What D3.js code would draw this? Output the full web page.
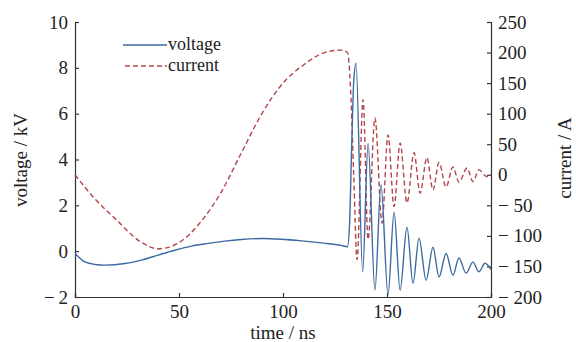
<!DOCTYPE html>
<html lang="en">
<head>
<meta charset="UTF-8">
<title>voltage and current</title>
<script src="https://cdn.jsdelivr.net/npm/d3@7"></script>
<style>
  body { margin: 0; background: #fff; }
  svg text { font-family: "Liberation Serif", "Times New Roman", serif; fill: #222; }
  .axis path, .axis line { stroke: #333; stroke-width: 1.2; }
  .axis text { font-size: 19px; }
</style>
</head>
<body>
<svg id="chart" width="576" height="342"></svg>
<script>
// voltage trace (ns, kV)
const voltTime = [0, 4.8, 9.6, 14.4, 24, 32, 40, 48, 56, 64, 72, 80, 90, 99, 109, 118.6, 128, 131,
  132, 133, 134, 135.1, 138.3, 140.9, 144.2, 147.1, 150.5, 153.4, 156.3, 159.6, 162.5, 165.4,
  168.8, 172.1, 175, 178.4, 181.7, 184.6, 188, 191.3, 194.2, 197.1, 200];
const voltValue = [-0.1, -0.47, -0.58, -0.61, -0.54, -0.39, -0.17, 0.04, 0.22, 0.34, 0.44, 0.51, 0.55, 0.52, 0.45, 0.36, 0.25, 0.19,
  1.2, 4.5, 7.4, 8.2, -0.9, 4.7, -1.7, 2.9, -1.9, 1.7, -1.7, 1.05, -1.4, 0.57,
  -1.27, 0.17, -1.13, -0.1, -1.05, -0.3, -0.96, -0.48, -0.9, -0.53, -0.8];

// current trace (ns, A)
const currTime = [0, 10, 20, 30, 40, 50, 60, 70, 80, 90, 100, 110, 120, 128, 131,
  132.5, 134, 135.6, 138.5, 140.9, 144.2, 147.6, 150.5, 153.4, 156.3, 159.6, 163, 165.9,
  169.2, 172.1, 175, 178.4, 181.7, 184.6, 188.5, 191.3, 194.2, 198, 200];
const currValue = [0, -41, -74, -106, -121, -111, -79, -30, 36, 101, 150, 180, 200, 204, 200,
  140, 0, -139, 123, -106, 93, -79, 65, -52, 52, -46, 36, -30,
  28, -25, 20, -20, 13, -12, 11, -11, 8, -3, 0];

const xTicks = [0, 50, 100, 150, 200];
const voltTicks = [-2, 0, 2, 4, 6, 8, 10];
const currTicks = [-200, -150, -100, -50, 0, 50, 100, 150, 200, 250];

const svg = d3.select("#chart");

const x = d3.scaleLinear().domain([0, 200]).range([75, 491]);
const yV = d3.scaleLinear().domain([-2, 10]).range([297, 22]);
const yA = d3.scaleLinear().domain([-200, 250]).range([297, 22]);

const fmt = (sp) => d => d < 0 ? "\u2212" + sp + Math.abs(d) : String(d);

// axes, ticks pointing inward
svg.append("g").attr("class", "axis")
  .attr("transform", "translate(75,0)")
  .call(d3.axisLeft(yV).tickValues(voltTicks).tickSize(-4).tickPadding(7).tickFormat(fmt("\u2009")));

svg.append("g").attr("class", "axis")
  .attr("transform", "translate(491,0)")
  .call(d3.axisRight(yA).tickValues(currTicks).tickSize(-4).tickPadding(7).tickFormat(fmt(" ")));

svg.append("g").attr("class", "axis")
  .attr("transform", "translate(0,297)")
  .call(d3.axisBottom(x).tickValues(xTicks).tickSize(-4).tickPadding(8));

// lines
const voltData = voltTime.map((t, i) => [t, voltValue[i]]);
const currData = currTime.map((t, i) => [t, currValue[i]]);

svg.append("path")
  .datum(currData)
  .attr("fill", "none")
  .attr("stroke", "#b3474a")
  .attr("stroke-width", 1.4)
  .attr("stroke-dasharray", "5,3")
  .attr("d", d3.line().x(d => x(d[0])).y(d => yA(d[1])).curve(d3.curveMonotoneX));

svg.append("path")
  .datum(voltData)
  .attr("fill", "none")
  .attr("stroke", "#3d6aa2")
  .attr("stroke-width", 1.4)
  .attr("d", d3.line().x(d => x(d[0])).y(d => yV(d[1])).curve(d3.curveMonotoneX));

// legend
const legend = svg.append("g");
legend.append("line").attr("x1", 123).attr("x2", 167).attr("y1", 45).attr("y2", 45)
  .attr("stroke", "#3d6aa2").attr("stroke-width", 1.6);
legend.append("text").attr("x", 168).attr("y", 50).style("font-size", "18px").text("voltage");
legend.append("line").attr("x1", 125).attr("x2", 167).attr("y1", 66).attr("y2", 66)
  .attr("stroke", "#b3474a").attr("stroke-width", 1.4).attr("stroke-dasharray", "5,3");
legend.append("text").attr("x", 168).attr("y", 71).style("font-size", "18px").text("current");

// axis titles
svg.append("text").attr("x", 283).attr("y", 339).attr("text-anchor", "middle")
  .style("font-size", "19px").text("time / ns");
svg.append("text").attr("transform", "translate(27,160) rotate(-90)").attr("text-anchor", "middle")
  .style("font-size", "19px").text("voltage / kV");
svg.append("text").attr("transform", "translate(571,158) rotate(-90)").attr("text-anchor", "middle")
  .style("font-size", "19px").text("current / A");
</script>
</body>
</html>
